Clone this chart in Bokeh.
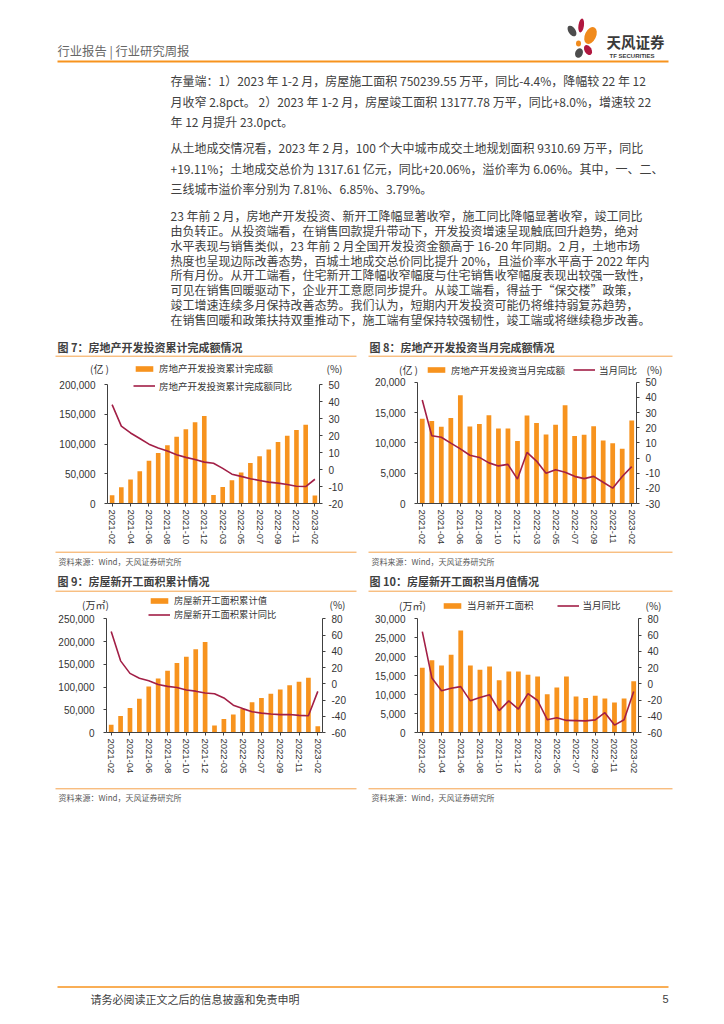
from bokeh.plotting import figure
from bokeh.models import (Range1d, LinearAxis, FixedTicker, NumeralTickFormatter,
                          Legend, LegendItem, Label, ColumnDataSource)
from bokeh.layouts import column, row
from bokeh.embed import file_html
from bokeh.resources import INLINE
from bokeh.core.properties import value

# ---------------- data ----------------
months = ["2021-02", "2021-03", "2021-04", "2021-05", "2021-06", "2021-07", "2021-08",
          "2021-09", "2021-10", "2021-11", "2021-12", "2022-02", "2022-03", "2022-04",
          "2022-05", "2022-06", "2022-07", "2022-08", "2022-09", "2022-10", "2022-11",
          "2022-12", "2023-02"]

inv_cum = [13986, 27576, 40240, 54318, 72179, 84895, 98010, 112568, 124934, 137086, 147602,
           14499, 27765, 39154, 52134, 68314, 79462, 90809, 103559, 113945, 123863, 132895, 13669]
inv_cum_yoy = [38.3, 25.6, 21.6, 18.3, 15.0, 12.7, 10.9, 8.8, 7.2, 6.0, 4.4,
               3.7, 0.7, -2.7, -4.0, -5.4, -6.4, -7.4, -8.0, -8.8, -9.8, -10.0, -5.7]

inv_mon = [13986, 13590, 12664, 14078, 17861, 12716, 13115, 14558, 12366, 12352, 10306,
           14499, 13266, 11389, 12980, 16180, 11148, 11347, 12750, 10386, 9918, 9032, 13669]
inv_mon_yoy = [38.3, 14.7, 13.7, 9.8, 6.0, 1.8, 0.4, -3.2, -5.2, -4.2, -13.9,
               3.7, -2.0, -10.1, -7.7, -9.4, -12.1, -13.6, -12.1, -16.0, -19.9, -12.2, -5.7]

new_cum = [17093, 36163, 53846, 74350, 101288, 118948, 135502, 152944, 166736, 182820, 198895,
           15237, 29638, 39739, 51628, 66423, 75943, 85062, 94767, 103722, 111632, 120587, 13549]
new_cum_yoy = [64.3, 28.2, 12.8, 6.9, 3.8, -0.9, -3.2, -4.5, -7.7, -9.1, -11.4,
               -12.2, -17.5, -26.3, -30.6, -34.4, -36.1, -37.2, -38.0, -37.8, -38.9, -39.4, -9.4]

new_mon = [17093, 19070, 17683, 20504, 26938, 17660, 16554, 17442, 13792, 16084, 16075,
           15237, 14800, 10101, 11889, 14795, 9520, 9119, 9705, 8955, 7910, 8955, 13549]
new_mon_yoy = [64.3, 7.0, -8.5, -5.5, -3.5, -21.0, -16.8, -13.5, -33.1, -21.1, -31.1,
               -12.2, -20.6, -44.2, -41.8, -45.1, -45.4, -45.7, -44.4, -35.6, -50.9, -44.3, -9.4]

para_lines = [
    "存量端：1）2023 年 1-2 月，房屋施工面积 750239.55 万平，同比-4.4%，降幅较 22 年 12",
    "月收窄 2.8pct。 2）2023 年 1-2 月，房屋竣工面积 13177.78 万平，同比+8.0%，增速较 22",
    "年 12 月提升 23.0pct。",
    "从土地成交情况看，2023 年 2 月，100 个大中城市成交土地规划面积 9310.69 万平，同比",
    "+19.11%；土地成交总价为 1317.61 亿元，同比+20.06%，溢价率为 6.06%。其中，一、二、",
    "三线城市溢价率分别为 7.81%、6.85%、3.79%。",
    "23 年前 2 月，房地产开发投资、新开工降幅显著收窄，施工同比降幅显著收窄，竣工同比",
    "由负转正。从投资端看，在销售回款提升带动下，开发投资增速呈现触底回升趋势，绝对",
    "水平表现与销售类似，23 年前 2 月全国开发投资金额高于 16-20 年同期。2 月，土地市场",
    "热度也呈现边际改善态势，百城土地成交总价同比提升 20%，且溢价率水平高于 2022 年内",
    "所有月份。从开工端看，住宅新开工降幅收窄幅度与住宅销售收窄幅度表现出较强一致性，",
    "可见在销售回暖驱动下，企业开工意愿同步提升。从竣工端看，得益于“保交楼”政策，",
    "竣工增速连续多月保持改善态势。我们认为，短期内开发投资可能仍将维持弱复苏趋势，",
    "在销售回暖和政策扶持双重推动下，施工端有望保持较强韧性，竣工端或将继续稳步改善。",
]

source_note = "资料来源：Wind，天风证券研究所"

# ---------------- style ----------------
CJK = "Noto Sans CJK SC"
NUM = "Liberation Sans"
ORANGE = "#F7931E"
RULE = "#F5A24B"
CRIMSON = "#A21F46"
DARK = "#404040"
AX = "#404040"
PAGE_W = 724


def strip(y0, y1):
    p = figure(width=PAGE_W, height=int(round(y1 - y0)), x_range=Range1d(0, PAGE_W),
               y_range=Range1d(y1, y0), output_backend="svg", toolbar_location=None,
               x_axis_type=None, y_axis_type=None, min_border=0)
    p.outline_line_color = None
    p.background_fill_color = "white"
    p.border_fill_color = "white"
    p.grid.visible = False
    return p


def txt(p, x, y, s, size, color=DARK, font=CJK, style="normal", align="left"):
    p.text(x=[x], y=[y], text=[s], text_font=value(font), text_font_size=value(f"{size}px"),
           text_color=color, text_font_style=style, text_align=align, text_baseline="middle")


def hline(p, x0, x1, y, color=RULE, width=1.0):
    p.line([x0, x1], [y, y], line_color=color, line_width=width)


def make_legend(items, left, bottom, cx0, cy0, h, orient="vertical", spacing=3, label_h=15,
                fsize="9.5px"):
    return Legend(items=items, location=(left - cx0, cy0 + h - bottom), orientation=orient,
                  glyph_width=22, glyph_height=7, label_height=label_h, label_standoff=4,
                  spacing=spacing, padding=0, margin=0, border_line_color=None,
                  background_fill_alpha=0, label_text_font=CJK,
                  label_text_font_size=fsize, label_text_color="#333333")


def chart(cx0, cy0, w, h, fl, fr, fb, ttop, bars, pct, lmax, lstep, rmin, rmax, rstep,
          unit, unit_pos, pct_pos, labels, legend_spec):
    n = len(months)
    kx = (fr - fl) / n
    xs = -0.5 - (fl - cx0) / kx
    xe = n - 0.5 + (cx0 + w - fr) / kx
    span = fb - ttop
    below = cy0 + h - fb
    above = ttop - cy0
    ky = span / lmax
    kr = span / (rmax - rmin)

    src = ColumnDataSource(dict(x=list(range(n)), bar=bars, pct=pct))
    p = figure(width=w, height=h, x_range=Range1d(xs, xe),
               y_range=Range1d(-below / ky, lmax + above / ky),
               output_backend="svg", toolbar_location=None, min_border=0)
    p.extra_y_ranges = {"pct": Range1d(rmin - below / kr, rmax + above / kr)}
    p.outline_line_color = None
    p.background_fill_color = "white"
    p.border_fill_color = "white"
    p.xgrid.grid_line_color = None
    p.ygrid.grid_line_color = None

    ax_r = LinearAxis(y_range_name="pct")
    p.add_layout(ax_r, "right")
    ax_l = p.yaxis[0]
    xa = p.xaxis[0]

    for ax in (ax_l, ax_r, xa):
        ax.axis_line_color = AX
        ax.major_tick_line_color = AX
        ax.minor_tick_line_color = None
        ax.major_tick_in = 0
        ax.major_tick_out = 3
        ax.major_label_text_font = NUM
        ax.major_label_text_font_size = "10px"
        ax.major_label_text_color = "#333333"

    ax_l.fixed_location = -0.5
    ax_l.ticker = FixedTicker(ticks=list(range(0, lmax + 1, lstep)))
    ax_l.formatter = NumeralTickFormatter(format="0,0")
    ax_l.bounds = (0, lmax)
    ax_l.major_label_standoff = 9

    ax_r.fixed_location = n - 0.5
    ax_r.ticker = FixedTicker(ticks=list(range(rmin, rmax + 1, rstep)))
    ax_r.formatter = NumeralTickFormatter(format="0")
    ax_r.bounds = (rmin, rmax)
    ax_r.major_label_standoff = 6

    xa.fixed_location = 0
    xa.bounds = (-0.5, n - 0.5)
    xa.ticker = FixedTicker(ticks=list(range(0, n, 2)))
    xa.major_label_overrides = {i: months[i] for i in range(0, n, 2)}
    xa.major_label_orientation = "vertical"
    xa.major_label_text_font_size = "9.5px"
    xa.major_label_standoff = 3

    vb = p.vbar(x="x", top="bar", width=0.5, source=src, fill_color=ORANGE, line_color=None)
    ln = p.line(x="x", y="pct", source=src, y_range_name="pct", line_color=CRIMSON,
                line_width=1.6)

    it_bar = LegendItem(label=labels[0], renderers=[vb])
    it_line = LegendItem(label=labels[1], renderers=[ln])
    if legend_spec[0] == "vertical":
        _, left, b1, b2, fsize = legend_spec
        p.add_layout(make_legend([it_bar], left, b1, cx0, cy0, h, fsize=fsize))
        p.add_layout(make_legend([it_line], left, b2, cx0, cy0, h, fsize=fsize))
    else:
        _, left, bottom, spacing = legend_spec
        p.add_layout(make_legend([it_bar, it_line], left, bottom, cx0, cy0, h,
                                 orient="horizontal", spacing=spacing))

    for s, (ux, uy) in ((unit, unit_pos), ("(%)", pct_pos)):
        p.add_layout(Label(x=ux - cx0, y=cy0 + h - uy, x_units="screen",
                           y_units="screen", text=s, text_font=CJK, text_font_size="10px",
                           text_color="#333333", text_align="center",
                           text_baseline="middle"))
    return p


# ---------------- top strip: header + text + first titles ----------------
top = strip(0, 357)
txt(top, 57, 50, "行业报告 | 行业研究周报", 12.3, color="#666666")
hline(top, 57, 668, 61, color=ORANGE, width=2)
# logo
top.ellipse(x=[571.5], y=[30.5], width=7, height=12, angle=0.6, fill_color="#4D4D4D", line_color=None)
top.ellipse(x=[580.7], y=[25], width=5.5, height=14, angle=-0.15, fill_color="#B0173F", line_color=None)
top.ellipse(x=[590], y=[35], width=11, height=18, angle=-0.45, fill_color="#F08A1C", line_color=None)
top.ellipse(x=[578], y=[43], width=5, height=6, angle=0, fill_color="#F08A1C", line_color=None)
top.ellipse(x=[587.5], y=[49.5], width=7, height=11, angle=0.5, fill_color="#B0173F", line_color=None)
top.ellipse(x=[578.5], y=[52.5], width=7.5, height=10, angle=-0.4, fill_color="#4D4D4D", line_color=None)
txt(top, 606, 41, "天风证券", 14.5, color="#3A3A3A", style="bold")
txt(top, 609, 55, "TF SECURITIES", 6, color="#3A3A3A", font=NUM, style="bold")

ys = [80, 100.5, 121, 147, 167.5, 188]
ys += [215 + 14.86 * i for i in range(8)]
for yv, s in zip(ys, para_lines):
    txt(top, 170, yv, s, 12, color="#404040")

txt(top, 57, 346, "图 7：房地产开发投资累计完成额情况", 11, style="bold")
txt(top, 369, 346, "图 8：房地产开发投资当月完成额情况", 11, style="bold")
hline(top, 55, 356, 355.7)
hline(top, 368, 672, 355.7)

# ---------------- charts row 1 ----------------
c7 = chart(0, 357, 362, 191, 107, 319, 503, 384.3, inv_cum, inv_cum_yoy,
           200000, 50000, -20, 50, 10, "(亿 )", (99, 368), (334, 368),
           ["房地产开发投资累计完成额", "房地产开发投资累计完成额同比"],
           ("vertical", 133, 375.5, 393.2, "9.5px"))
c8 = chart(362, 357, 362, 191, 417, 636, 503, 381.7, inv_mon, inv_mon_yoy,
           20000, 5000, -30, 50, 10, "(亿 )", (408, 369), (654, 369),
           ["房地产开发投资当月完成额", "当月同比"],
           ("horizontal", 425, 377, 8))

# ---------------- middle strip ----------------
mid = strip(548, 593)
hline(mid, 55, 356, 551.7)
hline(mid, 368, 672, 551.7)
txt(mid, 58, 561, source_note, 8, color="#595959")
txt(mid, 371, 561, source_note, 8, color="#595959")
txt(mid, 57, 580, "图 9：房屋新开工面积累计情况", 11, style="bold")
txt(mid, 369, 580, "图 10：房屋新开工面积当月值情况", 11, style="bold")
hline(mid, 55, 356, 590.7)
hline(mid, 368, 672, 590.7)

# ---------------- charts row 2 ----------------
c9 = chart(0, 593, 362, 192, 106, 322, 732, 618.3, new_cum, new_cum_yoy,
           250000, 50000, -60, 80, 20, "(万㎡)", (95, 604), (337, 604),
           ["房屋新开工面积累计值", "房屋新开工面积累计同比"],
           ("vertical", 148, 607.5, 621.5, "9.3px"))
c10 = chart(362, 593, 362, 192, 417, 638, 732, 618.3, new_mon, new_mon_yoy,
            30000, 5000, -60, 80, 20, "(万㎡)", (412, 605), (653, 605),
            ["当月新开工面积", "当月同比"],
            ("horizontal", 441, 612.5, 23))

# ---------------- bottom strip ----------------
bot = strip(785, 1020)
hline(bot, 55, 356, 788.3)
hline(bot, 368, 672, 788.3)
txt(bot, 58, 797, source_note, 8, color="#595959")
txt(bot, 371, 797, source_note, 8, color="#595959")
hline(bot, 57, 668, 986.5, color=ORANGE, width=1.5)
txt(bot, 90, 998, "请务必阅读正文之后的信息披露和免责申明", 11, color="#404040")
txt(bot, 668, 998, "5", 11, color="#404040", font=NUM, align="right")

layout = column(top, row(c7, c8), mid, row(c9, c10), bot)
open("out.html", "w").write(file_html(layout, INLINE))
